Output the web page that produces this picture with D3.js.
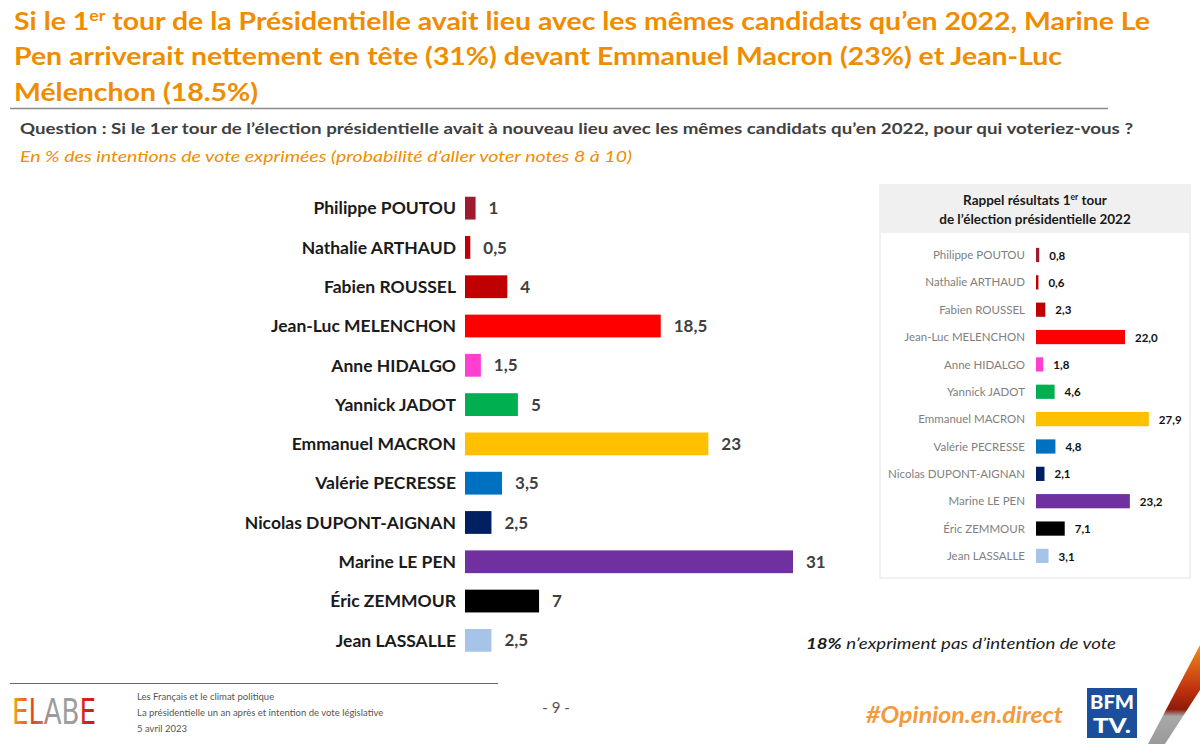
<!DOCTYPE html>
<html><head><meta charset="utf-8">
<script src="https://cdn.jsdelivr.net/npm/d3@7"></script>
<style>html,body{margin:0;padding:0;background:#fff;}svg{display:block;font-family:Lato,"Open Sans",sans-serif;}</style>
</head><body>
<svg id="c" width="1200" height="744"></svg>
<script>
const candidates = ["Philippe POUTOU","Nathalie ARTHAUD","Fabien ROUSSEL","Jean-Luc MELENCHON","Anne HIDALGO","Yannick JADOT","Emmanuel MACRON","Valérie PECRESSE","Nicolas DUPONT-AIGNAN","Marine LE PEN","Éric ZEMMOUR","Jean LASSALLE"];
const intentions2023 = [1,0.5,4,18.5,1.5,5,23,3.5,2.5,31,7,2.5];
const results2022 = [0.8,0.6,2.3,22.0,1.8,4.6,27.9,4.8,2.1,23.2,7.1,3.1];
const colors = ["#9E1B2E","#C00000","#C00000","#FF0000","#FF3FD2","#00B050","#FFC000","#0070C0","#002060","#7030A0","#000000","#A6C3E8"];

const svg = d3.select("#c");
const orange = "#F08C00";

// Title
const titleLines = [
  {parts:[["Si le 1",0],["er",1],[" tour de la Présidentielle avait lieu avec les mêmes candidats qu\u2019en 2022, Marine Le",0]], y:30, len:1136},
  {parts:[["Pen arriverait nettement en tête (31%) devant Emmanuel Macron (23%) et Jean-Luc",0]], y:65, len:1048},
  {parts:[["Mélenchon (18.5%)",0]], y:101, len:244}
];
titleLines.forEach(l=>{
  const t = svg.append("text").attr("x",14).attr("y",l.y).attr("fill",orange)
    .attr("font-size",24).attr("font-weight","bold");
  l.parts.forEach(p=>{
    const ts = t.append("tspan").text(p[0]);
    if(p[1]) ts.attr("font-size",15).attr("dy",-9);
    else if(l.parts.length>1 && p!==l.parts[0]) ts.attr("dy",9);
  });
  t.attr("textLength",l.len).attr("lengthAdjust","spacingAndGlyphs");
});
svg.append("line").attr("x1",10).attr("x2",1108).attr("y1",108.5).attr("y2",108.5).attr("stroke","#8a8a8a").attr("stroke-width",1.5);
svg.append("text").attr("x",20).attr("y",134).attr("fill","#404040").attr("font-size",15).attr("font-weight","bold")
  .attr("textLength",1113).attr("lengthAdjust","spacingAndGlyphs")
  .text("Question : Si le 1er tour de l\u2019élection présidentielle avait à nouveau lieu avec les mêmes candidats qu\u2019en 2022, pour qui voteriez-vous ?");
svg.append("text").attr("x",20).attr("y",162).attr("fill",orange).attr("font-size",15).attr("font-style","italic")
  .attr("textLength",612).attr("lengthAdjust","spacingAndGlyphs")
  .text("En % des intentions de vote exprimées (probabilité d\u2019aller voter notes 8 à 10)");

// Main chart
const x = d3.scaleLinear().domain([0,31]).range([465,793]);
const y = d3.scaleBand().domain(candidates).range([188.5,660]).paddingInner(0.42).paddingOuter(0.21);
const g = svg.append("g");
g.selectAll("rect.m").data(candidates).join("rect").attr("class","m")
  .attr("x",x(0)).attr("y",d=>y(d)).attr("height",y.bandwidth())
  .attr("width",(d,i)=>x(intentions2023[i])-x(0)).attr("fill",(d,i)=>colors[i]);
g.selectAll("text.lab").data(candidates).join("text").attr("class","lab")
  .attr("x",456).attr("y",d=>y(d)+y.bandwidth()/2).attr("dy","0.36em").attr("text-anchor","end")
  .attr("font-size",17.5).attr("font-weight","bold").attr("fill","#1a1a1a").text(d=>d);
g.selectAll("text.val").data(candidates).join("text").attr("class","val")
  .attr("x",(d,i)=>x(intentions2023[i])+13).attr("y",d=>y(d)+y.bandwidth()/2).attr("dy","0.36em")
  .attr("font-size",17).attr("font-weight","bold").attr("fill","#404040")
  .text((d,i)=>String(intentions2023[i]).replace(".",","));

// Right panel
const panel = svg.append("g");
panel.append("rect").attr("x",880).attr("y",185).attr("width",310).attr("height",393).attr("fill","#fff").attr("stroke","#ececec").attr("stroke-width",1.5);
panel.append("rect").attr("x",880).attr("y",185).attr("width",310).attr("height",48).attr("fill","#f0f0f0");
panel.append("text").attr("x",1035).attr("y",205).attr("text-anchor","middle").attr("font-size",13.5).attr("font-weight","bold").attr("fill","#1a1a1a")
  .call(t=>{t.append("tspan").text("Rappel résultats 1");t.append("tspan").text("er").attr("font-size",8.5).attr("dy",-5);t.append("tspan").text(" tour").attr("dy",5);});
panel.append("text").attr("x",1035).attr("y",224).attr("text-anchor","middle").attr("font-size",13.5).attr("font-weight","bold").attr("fill","#1a1a1a")
  .text("de l\u2019élection présidentielle 2022");
const x2 = d3.scaleLinear().domain([0,22]).range([1036,1125]);
const y2 = d3.scaleBand().domain(candidates).range([241.3,569.6]).paddingInner(0.48).paddingOuter(0.24);
panel.selectAll("rect.r").data(candidates).join("rect").attr("class","r")
  .attr("x",x2(0)).attr("y",d=>y2(d)).attr("height",y2.bandwidth())
  .attr("width",(d,i)=>Math.max(2,x2(results2022[i])-x2(0))).attr("fill",(d,i)=>colors[i]);
panel.selectAll("text.rl").data(candidates).join("text").attr("class","rl")
  .attr("x",1025).attr("y",d=>y2(d)+y2.bandwidth()/2).attr("dy","0.36em").attr("text-anchor","end")
  .attr("font-size",11.5).attr("fill","#808080").text(d=>d);
panel.selectAll("text.rv").data(candidates).join("text").attr("class","rv")
  .attr("x",(d,i)=>Math.max(x2(0)+2,x2(results2022[i]))+10).attr("y",d=>y2(d)+y2.bandwidth()/2).attr("dy","0.4em")
  .attr("font-size",11.5).attr("font-weight","bold").attr("fill","#111")
  .text((d,i)=>results2022[i].toFixed(1).replace(".",","));

// Note
svg.append("text").attr("x",806).attr("y",649).attr("font-size",15).attr("font-style","italic").attr("fill","#1a1a1a")
  .attr("textLength",310).attr("lengthAdjust","spacingAndGlyphs")
  .call(t=>{t.append("tspan").attr("font-weight","bold").text("18%");t.append("tspan").text(" n\u2019expriment pas d\u2019intention de vote");});

// Footer
svg.append("line").attr("x1",10).attr("x2",498).attr("y1",683.5).attr("y2",683.5).attr("stroke","#666").attr("stroke-width",1);
const defs = svg.append("defs");
const lg = defs.append("linearGradient").attr("id","elabe").attr("x1","0").attr("x2","1").attr("y1","0").attr("y2","0");
lg.append("stop").attr("offset","0%").attr("stop-color","#F2A81C");
lg.append("stop").attr("offset","25%").attr("stop-color","#E8431A");
lg.append("stop").attr("offset","45%").attr("stop-color","#9a9a9a");
lg.append("stop").attr("offset","75%").attr("stop-color","#a0a0a0");
lg.append("stop").attr("offset","85%").attr("stop-color","#E02020");
lg.append("stop").attr("offset","100%").attr("stop-color","#C81818");
svg.append("text").attr("x",12).attr("y",724).attr("font-size",36).attr("font-family","'DejaVu Sans', sans-serif").attr("font-weight","normal")
  .attr("fill","url(#elabe)").attr("textLength",84).attr("lengthAdjust","spacingAndGlyphs").text("ELABE");
const ft = ["Les Français et le climat politique","La présidentielle un an après et intention de vote législative","5 avril 2023"];
svg.selectAll("text.ft").data(ft).join("text").attr("class","ft").attr("x",137).attr("y",(d,i)=>700+i*16)
  .attr("font-size",9.5).attr("fill","#555").text(d=>d);
svg.append("text").attr("x",556).attr("y",713).attr("text-anchor","middle").attr("font-size",15).attr("fill","#555").text("- 9 -");
svg.append("text").attr("x",866).attr("y",723).attr("font-size",22).attr("font-weight","bold").attr("font-style","italic").attr("fill","#F39A3A")
  .attr("textLength",197).attr("lengthAdjust","spacingAndGlyphs").text("#Opinion.en.direct");
// BFM logo
svg.append("rect").attr("x",1087).attr("y",688).attr("width",50).attr("height",50).attr("fill","#1B4F9C");
svg.append("text").attr("x",1112).attr("y",709).attr("text-anchor","middle").attr("font-size",18).attr("font-weight","900").attr("fill","#fff")
  .attr("textLength",44).attr("lengthAdjust","spacingAndGlyphs").text("BFM");
svg.append("text").attr("x",1112).attr("y",733).attr("text-anchor","middle").attr("font-size",20).attr("font-weight","900").attr("fill","#fff")
  .attr("textLength",38).attr("lengthAdjust","spacingAndGlyphs").text("TV.");
// Decorative stripe
const sg = defs.append("linearGradient").attr("id","stripe").attr("x1","0").attr("x2","0").attr("y1","0").attr("y2","1");
sg.append("stop").attr("offset","0%").attr("stop-color","#F28A1E");
sg.append("stop").attr("offset","45%").attr("stop-color","#C0320E");
sg.append("stop").attr("offset","65%").attr("stop-color","#8E1A0A");
sg.append("stop").attr("offset","72%").attr("stop-color","#a8a8a8");
sg.append("stop").attr("offset","100%").attr("stop-color","#9a9a9a");
svg.append("path").attr("d","M1200,645 L1200,690 L1165,744 L1148,744 Z").attr("fill","url(#stripe)");
</script>
</body></html>
